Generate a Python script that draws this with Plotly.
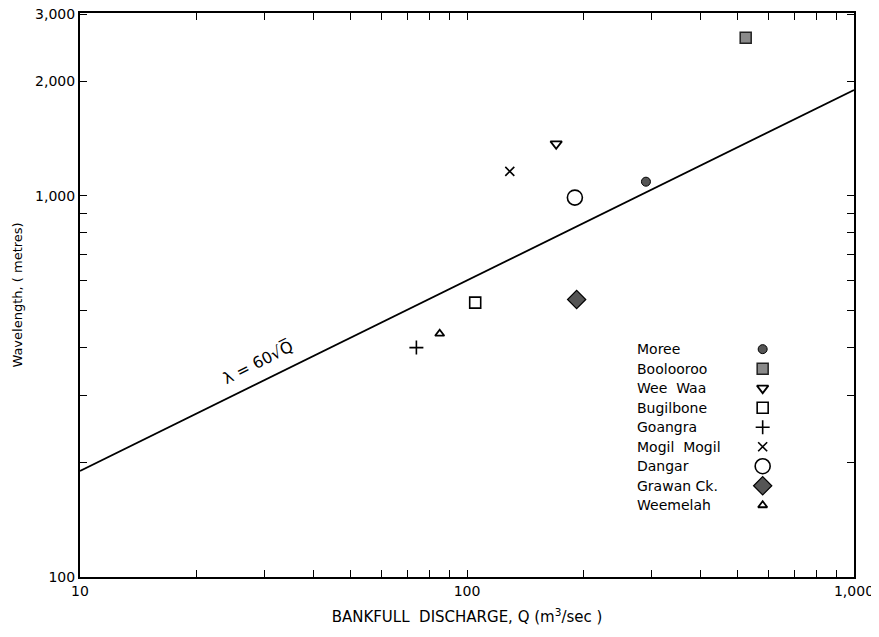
import plotly.graph_objects as go
import numpy as np

# ---- data ----
sites = ["Moree", "Boolooroo", "Wee  Waa", "Bugilbone", "Goangra",
         "Mogil  Mogil", "Dangar", "Grawan Ck.", "Weemelah"]
discharge = [290, 525, 170, 105, 74, 129, 190, 192, 85]          # Q, m3/sec
wavelength = [1090, 2600, 1370, 525, 400, 1160, 990, 535, 435]  # metres

line_coef = 60            # lambda = 60 * sqrt(Q)
line_q = [10, 1000]

x_tickvals = [10, 20, 30, 40, 50, 60, 70, 80, 90,
              100, 200, 300, 400, 500, 600, 700, 800, 900, 1000]
x_ticktext = ["10"] + [""] * 8 + ["100"] + [""] * 8 + ["1,000"]
y_tickvals = [100, 200, 300, 400, 500, 600, 700, 800, 900, 1000, 2000, 3000]
y_ticktext = ["100"] + [""] * 8 + ["1,000", "2,000", "3,000"]

# ---- styles ----
FONT = "DejaVu Sans"
styles = [
    dict(symbol="circle", size=9, color="#555555", line=dict(color="black", width=1)),
    dict(symbol="square", size=11, color="#8a8a8a", line=dict(color="#222222", width=1.5)),
    dict(symbol="triangle-down-open", size=10, color="black", line=dict(color="black", width=1.8)),
    dict(symbol="square-open", size=11, color="black", line=dict(color="black", width=1.6)),
    dict(symbol="cross-thin-open", size=10, color="black", line=dict(color="black", width=1.6)),
    dict(symbol="x-thin-open", size=9, color="black", line=dict(color="black", width=1.6)),
    dict(symbol="circle-open", size=15, color="black", line=dict(color="black", width=1.6)),
    dict(symbol="diamond", size=14, color="#555555", line=dict(color="black", width=1.2)),
    dict(symbol="triangle-up-open", size=8, color="black", line=dict(color="black", width=1.8)),
]

fig = go.Figure()

lq = np.array(line_q, dtype=float)
fig.add_trace(go.Scatter(x=lq, y=line_coef * np.sqrt(lq), mode="lines",
                         line=dict(color="black", width=1.8), showlegend=False,
                         hoverinfo="skip"))

for s, q, w, st in zip(sites, discharge, wavelength, styles):
    fig.add_trace(go.Scatter(x=[q], y=[w], mode="markers", name=s,
                             marker=st, showlegend=False))

# ---- custom legend (text left, symbol right) ----
leg_text_x = 0.717
leg_sym_x = 0.882
leg_top = 0.404
leg_step = 0.0346
for i, (s, st) in enumerate(zip(sites, styles)):
    yy = leg_top - i * leg_step
    fig.add_trace(go.Scatter(x=[leg_sym_x], y=[yy], mode="markers",
                             marker=st, xaxis="x2", yaxis="y2",
                             showlegend=False, hoverinfo="skip"))
    fig.add_annotation(x=leg_text_x, y=yy, xref="paper", yref="paper",
                       text=s, showarrow=False, xanchor="left", yanchor="middle",
                       font=dict(family=FONT, size=14, color="black"))

fig.add_annotation(x=np.log10(28.8), y=np.log10(365), xref="x", yref="y",
                   text="\u03bb = 60\u221aQ\u0305", showarrow=False, textangle=-27,
                   font=dict(family=FONT, size=16, color="black"))

axis_common = dict(showgrid=False, zeroline=False, showline=True, linecolor="black",
                   linewidth=2, mirror="ticks", ticks="inside", ticklen=7,
                   tickcolor="black", tickwidth=1.3, automargin=False,
                   ticklabeloverflow="allow",
                   tickfont=dict(family=FONT, size=14, color="black"))

fig.update_layout(
    width=879, height=637,
    margin=dict(l=72, r=33, t=5, b=68),
    paper_bgcolor="white", plot_bgcolor="white",
    showlegend=False,
    xaxis=dict(type="log", range=[1, 3], tickvals=x_tickvals, ticktext=x_ticktext,
               title=dict(text="BANKFULL  DISCHARGE, Q (m<sup>3</sup>/sec )",
                          font=dict(family=FONT, size=15, color="black"), standoff=14),
               **axis_common),
    yaxis=dict(type="log", range=[2, np.log10(3000) + 0.003], tickvals=y_tickvals,
               ticktext=y_ticktext,
               title=dict(text="Wavelength, ( metres)",
                          font=dict(family=FONT, size=13, color="black"), standoff=10),
               **axis_common),
    xaxis2=dict(overlaying="x", range=[0, 1], visible=False, domain=[0, 1]),
    yaxis2=dict(overlaying="y", range=[0, 1], visible=False),
)

fig.write_html("out.html")
